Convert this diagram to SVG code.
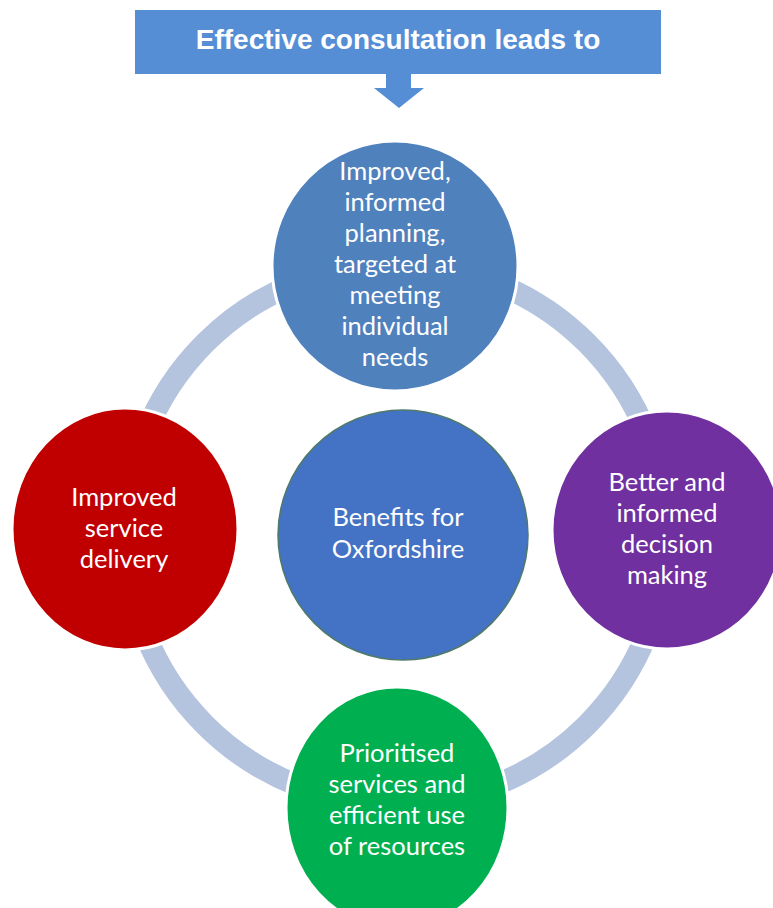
<svg xmlns="http://www.w3.org/2000/svg" width="773" height="908" viewBox="0 0 773 908">
<style>
.t{font-family:Lato,"Noto Sans","Liberation Sans",sans-serif;font-size:25.5px;fill:#ffffff;text-anchor:middle}
.h{font-family:"Liberation Sans",Arial,sans-serif;font-size:28px;font-weight:bold;fill:#ffffff;text-anchor:middle}
.sat{stroke:#ffffff;stroke-width:3}
</style>
<rect width="773" height="908" fill="#ffffff"/>
<g id="connectors">
<circle cx="396" cy="534" r="270" fill="none" stroke="#b4c4de" stroke-width="22"/>
</g>
<g id="header">
<rect x="135" y="10" width="526" height="64" fill="#558ed5"/>
<polygon points="386,74 411,74 411,88 424,88 399,108 374,88 386,88" fill="#558ed5"/>
<text class="h" x="398" y="49">Effective consultation leads to</text>
</g>
<g id="node-top">
<ellipse class="sat" cx="395" cy="266" rx="123" ry="125" fill="#4f81bd"/>
<text class="t" x="395" y="180">Improved,</text>
<text class="t" x="395" y="211">informed</text>
<text class="t" x="395" y="242">planning,</text>
<text class="t" x="395" y="273">targeted at</text>
<text class="t" x="395" y="304">meeting</text>
<text class="t" x="395" y="335">individual</text>
<text class="t" x="395" y="366">needs</text>
</g>
<g id="node-left">
<ellipse class="sat" cx="125" cy="529" rx="113" ry="121" fill="#c00000"/>
<text class="t" x="124" y="506">Improved</text>
<text class="t" x="124" y="537">service</text>
<text class="t" x="124" y="568">delivery</text>
</g>
<g id="node-right">
<ellipse class="sat" cx="667" cy="530" rx="115" ry="119" fill="#7030a0"/>
<text class="t" x="667" y="491">Better and</text>
<text class="t" x="667" y="522">informed</text>
<text class="t" x="667" y="553">decision</text>
<text class="t" x="667" y="584">making</text>
</g>
<g id="node-bottom">
<ellipse class="sat" cx="397" cy="808" rx="111" ry="121" fill="#00b050"/>
<text class="t" x="397" y="762">Prioritised</text>
<text class="t" x="397" y="793">services and</text>
<text class="t" x="397" y="824">efficient use</text>
<text class="t" x="397" y="855">of resources</text>
</g>
<g id="node-center">
<circle cx="403" cy="535" r="125" fill="#4472c4" stroke="#4f7a6a" stroke-width="1.5"/>
<text class="t" x="398" y="526">Benefits for</text>
<text class="t" x="398" y="558">Oxfordshire</text>
</g>
</svg>
